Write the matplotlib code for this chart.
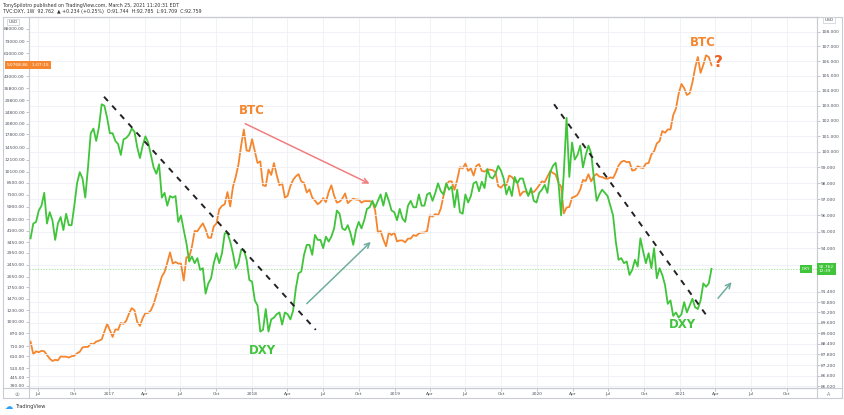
import pandas as pd
import matplotlib
matplotlib.use("Agg")
import matplotlib.pyplot as plt
import matplotlib.transforms as mtransforms
from matplotlib.ticker import FixedLocator, FuncFormatter, NullLocator
from matplotlib.lines import Line2D

# weekly closes, week starting 2016-06-13
btc_2016 = [763, 630, 660, 650, 665, 660, 624, 590, 570, 580, 575, 610, 608, 608, 600,
            612, 617, 640, 655, 700, 705, 705, 740, 735, 765, 775, 790, 890, 1000]
btc_2017 = [910, 820, 920, 915, 1015, 1000, 1050, 1170, 1270, 1230, 1030, 970, 1090, 1180,
            1180, 1230, 1350, 1550, 1780, 2050, 2200, 2530, 2960, 2500, 2560, 2500, 2500,
            1930, 2750, 2750, 3230, 4100, 4080, 4350, 4600, 4200, 3700, 3700, 4400, 4600,
            5700, 6000, 6150, 7400, 5950, 8000, 9300, 11200, 15000, 19100, 13900, 13800]
btc_2018 = [16500, 13800, 11500, 11800, 8200, 8100, 10400, 9600, 11500, 9600, 8200, 8450,
            6800, 7000, 8100, 8900, 9400, 9700, 8700, 8500, 7350, 7700, 6800, 6500, 6150,
            6350, 6750, 6350, 7400, 8200, 7000, 6300, 6400, 6700, 7250, 6250, 6500, 6700,
            6600, 6600, 6300, 6450, 6450, 6450, 6350, 5600, 4000, 4100, 3600, 3250, 4000,
            3850, 4000]
btc_2019 = [3500, 3550, 3550, 3450, 3650, 3650, 3850, 3800, 3950, 4000, 4000, 4100, 5200,
            5100, 5300, 5200, 5750, 7000, 8200, 8700, 8700, 7650, 8900, 10800, 10600, 11400,
            10200, 10600, 9500, 11000, 11300, 10200, 10100, 10400, 10400, 10300, 10000, 8100,
            7900, 8300, 8200, 9500, 9300, 8800, 8500, 7000, 7400, 7500, 7100, 7500, 7400, 7750]
btc_2020 = [8200, 8700, 8600, 9350, 10150, 9900, 9650, 8550, 8050, 5350, 5850, 5900, 6800,
            6900, 7100, 7700, 8900, 8750, 9700, 8700, 9450, 9750, 9350, 9300, 9100, 9050,
            9250, 9150, 9950, 11050, 11700, 11900, 11650, 11700, 10250, 10350, 10950, 10750,
            10650, 11400, 11500, 13100, 13750, 15500, 16000, 18700, 18200, 19150, 19150,
            23800, 26300, 33000]
btc_2021 = [38200, 35800, 32300, 33100, 38900, 48600, 57500, 45200, 51000, 59000, 57500, 50768.86]

dxy_2016 = [94.6, 95.5, 95.6, 96.3, 96.6, 97.4, 95.5, 96.2, 95.7, 94.5, 95.5, 95.9, 95.1,
            96.1, 95.4, 95.4, 96.6, 98.0, 98.7, 98.3, 97.1, 99.0, 101.2, 101.5, 100.7, 101.6,
            103.1, 103.0, 102.2]
dxy_2017 = [101.2, 101.2, 100.7, 100.5, 99.8, 100.8, 100.9, 101.1, 101.5, 101.3, 100.3, 99.6,
            100.4, 101.0, 100.6, 99.8, 99.0, 98.6, 99.2, 97.1, 97.4, 96.6, 97.2, 97.1, 97.2,
            95.6, 96.0, 95.1, 94.3, 93.2, 93.5, 93.1, 93.4, 92.7, 92.8, 91.3, 91.9, 92.2,
            93.1, 93.7, 93.1, 93.7, 94.9, 94.9, 94.4, 93.7, 92.8, 93.1, 93.9, 93.9, 93.3, 92.1]
dxy_2018 = [92.0, 90.9, 90.6, 89.1, 89.2, 90.4, 89.1, 89.8, 89.9, 90.1, 90.2, 89.5, 90.2,
            90.1, 89.8, 90.3, 91.6, 92.5, 92.6, 93.6, 94.2, 94.2, 93.6, 94.8, 94.5, 94.5,
            94.0, 94.7, 94.4, 94.7, 95.2, 96.3, 96.1, 95.2, 95.1, 95.4, 94.9, 94.2, 95.1,
            95.6, 95.2, 95.7, 96.4, 96.5, 96.9, 96.5, 96.9, 97.3, 96.6, 97.4, 96.9, 96.3, 96.2]
dxy_2019 = [95.7, 96.4, 95.8, 95.6, 96.6, 96.9, 96.5, 96.5, 97.3, 96.6, 96.6, 97.3, 97.4,
            96.9, 97.4, 98.0, 97.5, 97.3, 98.0, 97.6, 97.8, 96.5, 97.6, 96.2, 96.1, 97.3,
            96.8, 97.2, 98.0, 98.1, 97.5, 98.1, 97.7, 98.9, 98.4, 98.3, 98.6, 99.1, 98.8,
            98.3, 97.3, 97.8, 97.2, 98.4, 98.0, 98.3, 98.3, 97.7, 97.2, 97.7, 96.9, 96.8]
dxy_2020 = [97.4, 97.6, 97.9, 97.4, 98.7, 99.1, 99.3, 98.1, 96.0, 98.7, 102.2, 98.4, 100.6,
            99.5, 99.8, 100.4, 99.0, 99.8, 100.4, 99.9, 98.3, 96.9, 97.3, 97.6, 97.4, 97.2,
            96.6, 96.0, 94.4, 93.3, 93.4, 93.1, 93.2, 92.4, 92.7, 93.3, 92.9, 94.6, 93.8,
            93.1, 93.7, 92.8, 94.0, 92.2, 92.8, 92.4, 91.8, 90.7, 90.9, 90.0, 90.2, 89.9]
dxy_2021 = [90.1, 90.8, 90.2, 90.6, 91.0, 90.5, 90.4, 90.9, 91.9, 91.7, 91.9, 92.762]

btc_ticks = [390, 445, 510, 610, 710, 870, 1030, 1230, 1470, 1750, 2050, 2450, 2950, 3450,
             4100, 4900, 5900, 7100, 8500, 10100, 12100, 14500, 17800, 20800, 24800, 29800,
             35800, 43000, 61000, 73000, 88000]
dxy_ticks = [108, 107, 106, 105, 104, 103, 102, 101, 100, 99, 98, 97, 96, 95, 94, 93,
             91.4, 90.8, 90.2, 89.6, 89.0, 88.4, 87.8, 87.2, 86.6, 86.02]

# analyst drawings (date, DXY value)
trend_1 = [("2016-12-18", 103.6), ("2018-06-13", 89.2)]
trend_2 = [("2020-02-13", 103.1), ("2021-03-11", 89.97)]
red_arrow = [("2017-12-08", 101.9), ("2018-11-04", 97.9)]
teal_arrow_1 = [("2018-05-16", 90.6), ("2018-11-06", 94.5)]
teal_arrow_2 = [("2021-04-03", 90.9), ("2021-05-17", 92.1)]

btc = btc_2016 + btc_2017 + btc_2018 + btc_2019 + btc_2020 + btc_2021
dxy = dxy_2016 + dxy_2017 + dxy_2018 + dxy_2019 + dxy_2020 + dxy_2021
weeks = pd.date_range("2016-06-13", periods=len(btc), freq="W-MON")

BTC_C = '#f5862e'
DXY_C = '#3fc43a'
GRID_C = '#eef0f6'
FRAME_C = '#c9ccd4'
TXT_C = '#50535e'

W, H = 845, 415
fig = plt.figure(figsize=(W / 100, H / 100), dpi=100)


def fx(px):
    return px / W


def fy(py):
    return 1 - py / H


ax = fig.add_axes([fx(29), fy(388), fx(817) - fx(29), fy(17) - fy(388)])
ax2 = ax.twinx()

ax.plot(weeks, btc, color=BTC_C, lw=1.3, zorder=3)
ax2.plot(weeks, dxy, color=DXY_C, lw=1.3, zorder=3)

ax.set_yscale('log')
ax2.set_yscale('log')
ax.set_ylim(378, 105500)
ax2.set_ylim(85.93, 109.04)
ax.set_xlim(pd.Timestamp("2016-06-09"), pd.Timestamp("2021-12-17"))

ax.yaxis.set_major_locator(FixedLocator(btc_ticks))
ax.yaxis.set_minor_locator(NullLocator())
ax.yaxis.set_major_formatter(FuncFormatter(lambda v, _: f"{v:.2f}"))
ax2.yaxis.set_major_locator(FixedLocator(dxy_ticks))
ax2.yaxis.set_minor_locator(NullLocator())
ax2.yaxis.set_major_formatter(FuncFormatter(lambda v, _: f"{v:.3f}"))

xt = pd.date_range("2016-07-01", "2021-10-01", freq="QS")
ax.set_xticks(xt)
ax.set_xticklabels([str(d.year) if d.month == 1 else d.strftime('%b') for d in xt])

for a in (ax, ax2):
    a.tick_params(axis='both', length=2, width=0.5, color='#a9adb6',
                  labelcolor=TXT_C, labelsize=3.2, pad=1)
    for s in a.spines.values():
        s.set_color(FRAME_C)
        s.set_linewidth(0.8)

ax.grid(axis='x', color=GRID_C, lw=0.6)
ax2.grid(axis='y', color=GRID_C, lw=0.6)
ax.set_axisbelow(True)
ax2.set_axisbelow(True)

# price line
ax2.axhline(dxy[-1], color=DXY_C, lw=0.5, ls=(0, (2, 2)), alpha=0.6, zorder=2)

# trend lines
for tl in (trend_1, trend_2):
    ax2.plot([pd.Timestamp(tl[0][0]), pd.Timestamp(tl[1][0])], [tl[0][1], tl[1][1]],
             color='#222222', lw=1.4, ls=(0, (3, 3.2)), zorder=4)

for arr, col in ((red_arrow, '#f07e7e'), (teal_arrow_1, '#6fae9f'), (teal_arrow_2, '#6fae9f')):
    ax2.annotate('', xy=(pd.Timestamp(arr[1][0]), arr[1][1]),
                 xytext=(pd.Timestamp(arr[0][0]), arr[0][1]),
                 arrowprops=dict(arrowstyle='->', color=col, lw=1.1, mutation_scale=9),
                 zorder=5)

ax2.text(pd.Timestamp("2018-01-01"), 102.7, "BTC", color=BTC_C, fontsize=8.5,
         fontweight='bold', ha='center', va='center', zorder=6)
ax2.text(pd.Timestamp("2018-01-28"), 88.0, "DXY", color=DXY_C, fontsize=8.5,
         fontweight='bold', ha='center', va='center', zorder=6)
ax2.text(pd.Timestamp("2021-03-01"), 107.3, "BTC", color=BTC_C, fontsize=8.5,
         fontweight='bold', ha='center', va='center', zorder=6)
ax2.text(pd.Timestamp("2021-04-09"), 105.9, "?", color='#f0601e', fontsize=11,
         fontweight='bold', ha='center', va='center', zorder=6)
ax2.text(pd.Timestamp("2021-01-06"), 89.5, "DXY", color=DXY_C, fontsize=8.5,
         fontweight='bold', ha='center', va='center', zorder=6)

# price tags
tr_left = mtransforms.blended_transform_factory(fig.transFigure, ax.transData)
fig.text(fx(7), btc[-1], "50768.86   1:07:15", transform=tr_left, fontsize=3.2,
         color='white', ha='left', va='center', zorder=10,
         bbox=dict(boxstyle='square,pad=0.5', fc=BTC_C, ec='none'))
tr_right = mtransforms.blended_transform_factory(fig.transFigure, ax2.transData)
fig.text(fx(819), dxy[-1], "92.762\n12:39", transform=tr_right, fontsize=3.2,
         color='white', ha='left', va='center', linespacing=1.1, zorder=10,
         bbox=dict(boxstyle='square,pad=0.45', fc=DXY_C, ec='none'))
fig.text(fx(802), dxy[-1], "DXY", transform=tr_right, fontsize=3.0,
         color='white', ha='left', va='center', zorder=10,
         bbox=dict(boxstyle='square,pad=0.4', fc=DXY_C, ec='none'))

# USD unit boxes
fig.text(fx(13), fy(22), "USD", fontsize=3.2, color=TXT_C, ha='center', va='center',
         bbox=dict(boxstyle='square,pad=0.3', fc='white', ec=FRAME_C, lw=0.5))
fig.text(fx(829), fy(20), "USD", fontsize=3.2, color=TXT_C, ha='center', va='center',
         bbox=dict(boxstyle='square,pad=0.3', fc='white', ec=FRAME_C, lw=0.5))

# outer frame
for (x0, y0, x1, y1) in ((3, 17, 842, 17), (3, 398, 842, 398), (3, 17, 3, 398),
                         (842, 17, 842, 398), (3, 388, 842, 388), (29, 388, 29, 398),
                         (817, 388, 817, 398)):
    fig.add_artist(Line2D([fx(x0), fx(x1)], [fy(y0), fy(y1)], color=FRAME_C, lw=0.8))

fig.text(fx(17), fy(394), "②", fontsize=3.8, color='#7a7e88', ha='center', va='center')
fig.text(fx(829), fy(394), "A", fontsize=3.4, color='#7a7e88', ha='center', va='center')

# header
fig.text(fx(3), fy(5), "TonySpilotro published on TradingView.com, March 25, 2021 11:20:31 EDT",
         fontsize=3.4, color='#333333', ha='left', va='center')
fig.text(fx(3), fy(12), "TVC:DXY, 1W  92.762  \u25B2 +0.234 (+0.25%)  O:91.744  H:92.785  L:91.709  C:92.759",
         fontsize=3.4, color='#333333', ha='left', va='center')

# footer logo
fig.text(fx(5), fy(406), "\u2601", fontsize=6, color='#2a9df4', ha='left', va='center')
fig.text(fx(15), fy(406), "TradingView", fontsize=3.6, color='#333333', ha='left', va='center')

fig.savefig("out.png", dpi=100, facecolor='white')
